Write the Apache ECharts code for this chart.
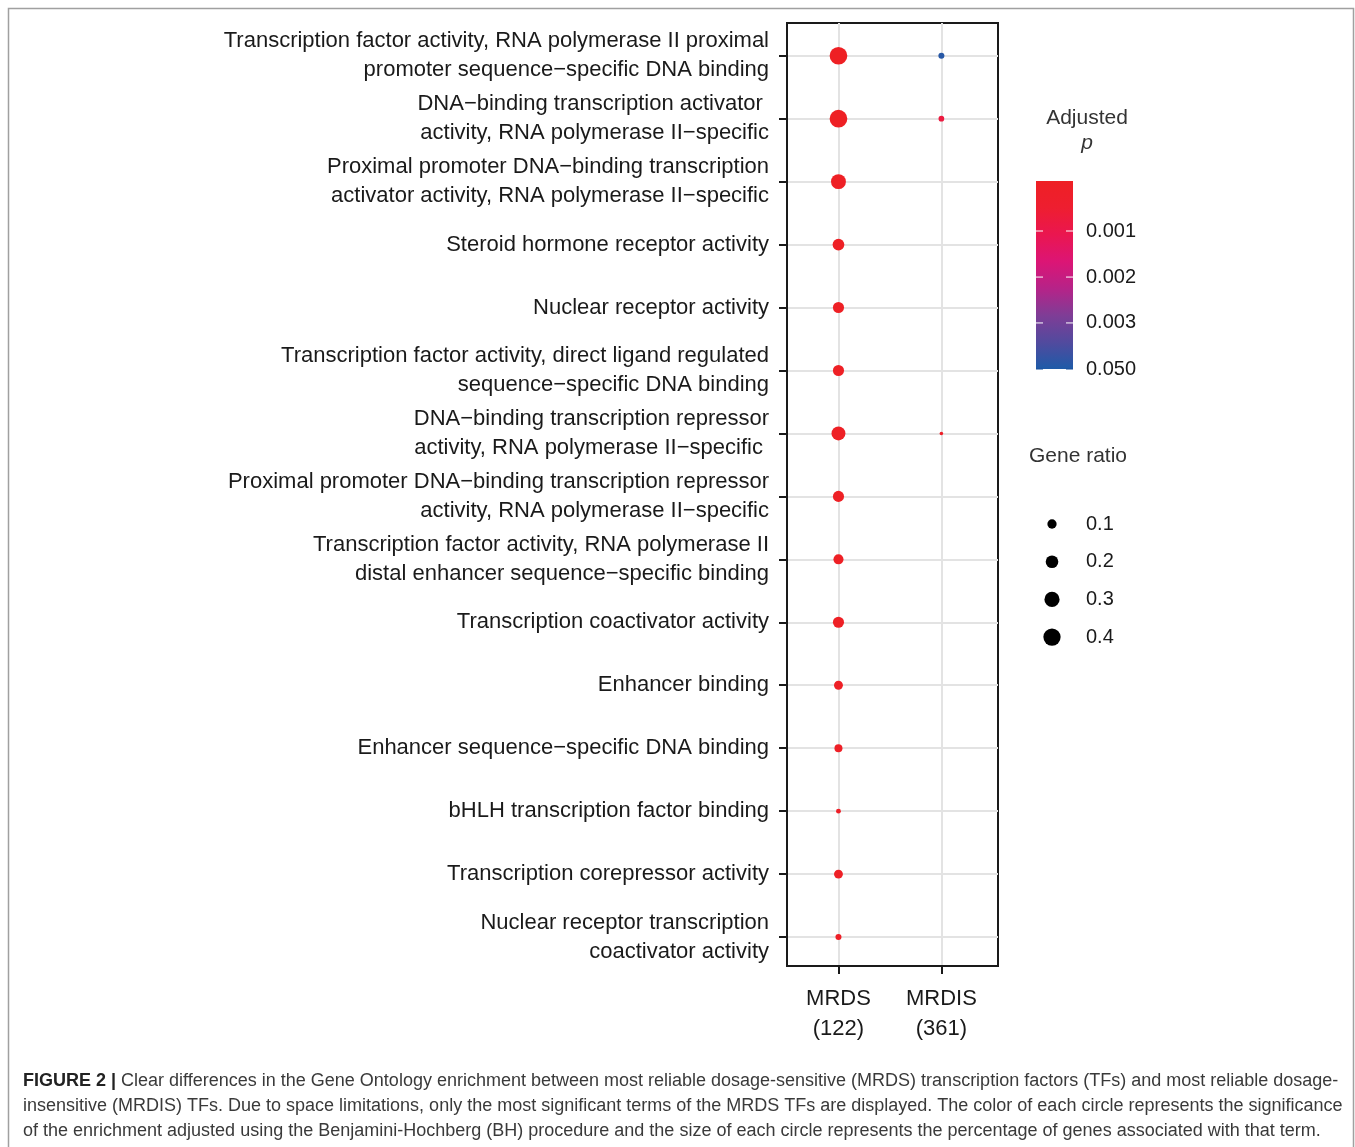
<!DOCTYPE html>
<html>
<head>
<meta charset="utf-8">
<script src="https://cdn.jsdelivr.net/npm/echarts@6/dist/echarts.min.js"></script>
<style>
  html, body { margin: 0; padding: 0; background: #fff; }
  #chart { width: 1355px; height: 1147px; }
</style>
</head>
<body>
<div id="chart"></div>
<script>
// GO terms, top to bottom
const terms = [
  'Transcription factor activity, RNA polymerase II proximal\npromoter sequence−specific DNA binding',
  'DNA−binding transcription activator \nactivity, RNA polymerase II−specific',
  'Proximal promoter DNA−binding transcription\nactivator activity, RNA polymerase II−specific',
  'Steroid hormone receptor activity',
  'Nuclear receptor activity',
  'Transcription factor activity, direct ligand regulated\nsequence−specific DNA binding',
  'DNA−binding transcription repressor\nactivity, RNA polymerase II−specific ',
  'Proximal promoter DNA−binding transcription repressor\nactivity, RNA polymerase II−specific',
  'Transcription factor activity, RNA polymerase II\ndistal enhancer sequence−specific binding',
  'Transcription coactivator activity',
  'Enhancer binding',
  'Enhancer sequence−specific DNA binding',
  'bHLH transcription factor binding',
  'Transcription corepressor activity',
  'Nuclear receptor transcription\ncoactivator activity'
];
const groups = ['MRDS', 'MRDIS'];
const groupSizes = [122, 361];

// gene ratio (null = term not enriched)
const mrdsRatio = [0.42, 0.42, 0.29, 0.17, 0.15, 0.15, 0.25, 0.15, 0.12, 0.15, 0.09, 0.07, 0.02, 0.09, 0.035];
const mrdisRatio = [0.035, 0.03, null, null, null, null, 0.008, null, null, null, null, null, null, null, null];
// adjusted p value
const mrdsP = [0.00002, 0.00002, 0.00003, 0.00004, 0.00004, 0.00005, 0.00003, 0.00005, 0.00006, 0.00005, 0.00008, 0.0001, 0.00015, 0.0001, 0.00015];
const mrdisP = [0.045, 0.0008, null, null, null, null, 0.0002, null, null, null, null, null, null, null, null];

// legend breaks
const pBreaks = [0.001, 0.002, 0.003, 0.050];
const ratioBreaks = [0.1, 0.2, 0.3, 0.4];

const FONT = '"Liberation Sans", Arial, sans-serif';

// colour bar: red (low p) -> blue (high p)
const barColors = ['#EE2024', '#EE1E30', '#EA1650', '#DC1575', '#B62388', '#7F3D96', '#524A9E', '#1E5BA8'];
const barStops = [0, 0.266, 0.511, 0.755, 1]; // where 0 and each break sit on the bar
function pToT(p) {
  const ps = [0].concat(pBreaks);
  for (let i = 1; i < ps.length; i++) {
    if (p <= ps[i]) return barStops[i - 1] + (p - ps[i - 1]) / (ps[i] - ps[i - 1]) * (barStops[i] - barStops[i - 1]);
  }
  return 1;
}
function pColor(p) {
  return echarts.color.lerp(pToT(p), barColors);
}
function ratioSize(r) {
  return 1.3 + 25.3 * Math.sqrt(r);
}

const points = [];
[mrdsRatio, mrdisRatio].forEach((ratios, g) => {
  const ps = g === 0 ? mrdsP : mrdisP;
  ratios.forEach((r, i) => {
    if (r != null) points.push([g + 1, i, r, ps[i]]);
  });
});

const chart = echarts.init(document.getElementById('chart'));

// legend bits
const barX = 1036, barY = 181, barW = 37, barH = 188;
const graphics = [];
graphics.push({
  type: 'rect', z: 0,
  shape: { x: 8.5, y: 8.5, width: 1345, height: 1200 },
  style: { fill: 'none', stroke: '#a0a0a0', lineWidth: 1.5 }
});
graphics.push({
  type: 'text', style: { text: 'Adjusted', x: 1087, y: 118, fontSize: 21, fontFamily: 'Liberation Sans', fill: '#333', align: 'center', verticalAlign: 'middle' }
});
graphics.push({
  type: 'text', style: { text: 'p', x: 1087, y: 143, fontSize: 21, fontStyle: 'italic', fontFamily: 'Liberation Sans', fill: '#333', align: 'center', verticalAlign: 'middle' }
});
graphics.push({
  type: 'rect',
  shape: { x: barX, y: barY, width: barW, height: barH },
  style: {
    fill: new echarts.graphic.LinearGradient(0, 0, 0, 1,
      barColors.map((c, i) => ({ offset: i / (barColors.length - 1), color: c })))
  }
});
pBreaks.forEach((b, i) => {
  const y = barY + barH * barStops[i + 1];
  const tickColor = i === pBreaks.length - 1 ? '#1a4f9a' : '#ffffff';
  graphics.push({ type: 'line', shape: { x1: barX, y1: y, x2: barX + 7, y2: y }, style: { stroke: tickColor, lineWidth: 1 } });
  graphics.push({ type: 'line', shape: { x1: barX + barW - 7, y1: y, x2: barX + barW, y2: y }, style: { stroke: tickColor, lineWidth: 1 } });
  graphics.push({
    type: 'text', style: { text: b.toFixed(3), x: 1086, y: y, fontSize: 20, fontFamily: 'Liberation Sans', fill: '#1a1a1a', verticalAlign: 'middle' }
  });
});
graphics.push({
  type: 'text', style: { text: 'Gene ratio', x: 1078, y: 456, fontSize: 21, fontFamily: 'Liberation Sans', fill: '#333', align: 'center', verticalAlign: 'middle' }
});
ratioBreaks.forEach((r, i) => {
  const y = 524 + i * 37.7;
  graphics.push({ type: 'circle', shape: { cx: 1052, cy: y, r: ratioSize(r) / 2 }, style: { fill: '#000' } });
  graphics.push({
    type: 'text', style: { text: r.toFixed(1), x: 1086, y: y, fontSize: 20, fontFamily: 'Liberation Sans', fill: '#1a1a1a', verticalAlign: 'middle' }
  });
});

// caption
const captionLines = [
  '{b|FIGURE 2 |} Clear differences in the Gene Ontology enrichment between most reliable dosage-sensitive (MRDS) transcription factors (TFs) and most reliable dosage-',
  'insensitive (MRDIS) TFs. Due to space limitations, only the most significant terms of the MRDS TFs are displayed. The color of each circle represents the significance',
  'of the enrichment adjusted using the Benjamini-Hochberg (BH) procedure and the size of each circle represents the percentage of genes associated with that term.'
];
captionLines.forEach((t, i) => {
  graphics.push({
    type: 'text',
    style: {
      text: t, x: 23, y: 1081 + i * 25, verticalAlign: 'middle',
      fontSize: 18, fontFamily: 'Liberation Sans', fill: '#3a3a3a',
      rich: { b: { fontWeight: 'bold', fontSize: 18, fontFamily: 'Liberation Sans', fill: '#222' } }
    }
  });
});

const gridColor = '#e3e3e3';
const option = {
  animation: false,
  backgroundColor: '#fff',
  grid: {
    left: 787, right: 357, top: 23, bottom: 181,
    show: true, borderColor: '#1a1a1a', borderWidth: 2, backgroundColor: 'transparent'
  },
  xAxis: {
    type: 'value',
    min: 0.5, max: 2.55,
    axisLine: { show: true, onZero: false, lineStyle: { color: '#1a1a1a', width: 2 } },
    axisTick: { show: true, length: 8, lineStyle: { color: '#1a1a1a', width: 2 }, customValues: [1, 2] },
    axisLabel: {
      customValues: [1, 2],
      margin: 18,
      fontFamily: FONT, fontSize: 22, color: '#1a1a1a', lineHeight: 30,
      formatter: v => groups[Math.round(v) - 1] + '\n(' + groupSizes[Math.round(v) - 1] + ')'
    },
    splitLine: { show: true, lineStyle: { color: gridColor, width: 2 } }
  },
  yAxis: {
    type: 'value',
    inverse: true,
    min: -0.52, max: 14.46,
    axisLine: { show: true, onZero: false, lineStyle: { color: '#1a1a1a', width: 2 } },
    axisTick: { show: true, length: 8, lineStyle: { color: '#1a1a1a', width: 2 }, customValues: terms.map((t, i) => i) },
    axisLabel: {
      customValues: terms.map((t, i) => i),
      margin: 18,
      fontFamily: FONT, fontSize: 22, color: '#1a1a1a', lineHeight: 29, align: 'right',
      formatter: v => terms[Math.round(v)]
    },
    splitLine: { show: true, lineStyle: { color: gridColor, width: 2 } }
  },
  series: [{
    type: 'scatter',
    data: points,
    symbolSize: v => ratioSize(v[2]),
    itemStyle: {
      color: params => pColor(params.value[3]),
      opacity: 1
    },
    z: 5
  }],
  graphic: graphics
};
chart.setOption(option);
</script>
</body>
</html>
